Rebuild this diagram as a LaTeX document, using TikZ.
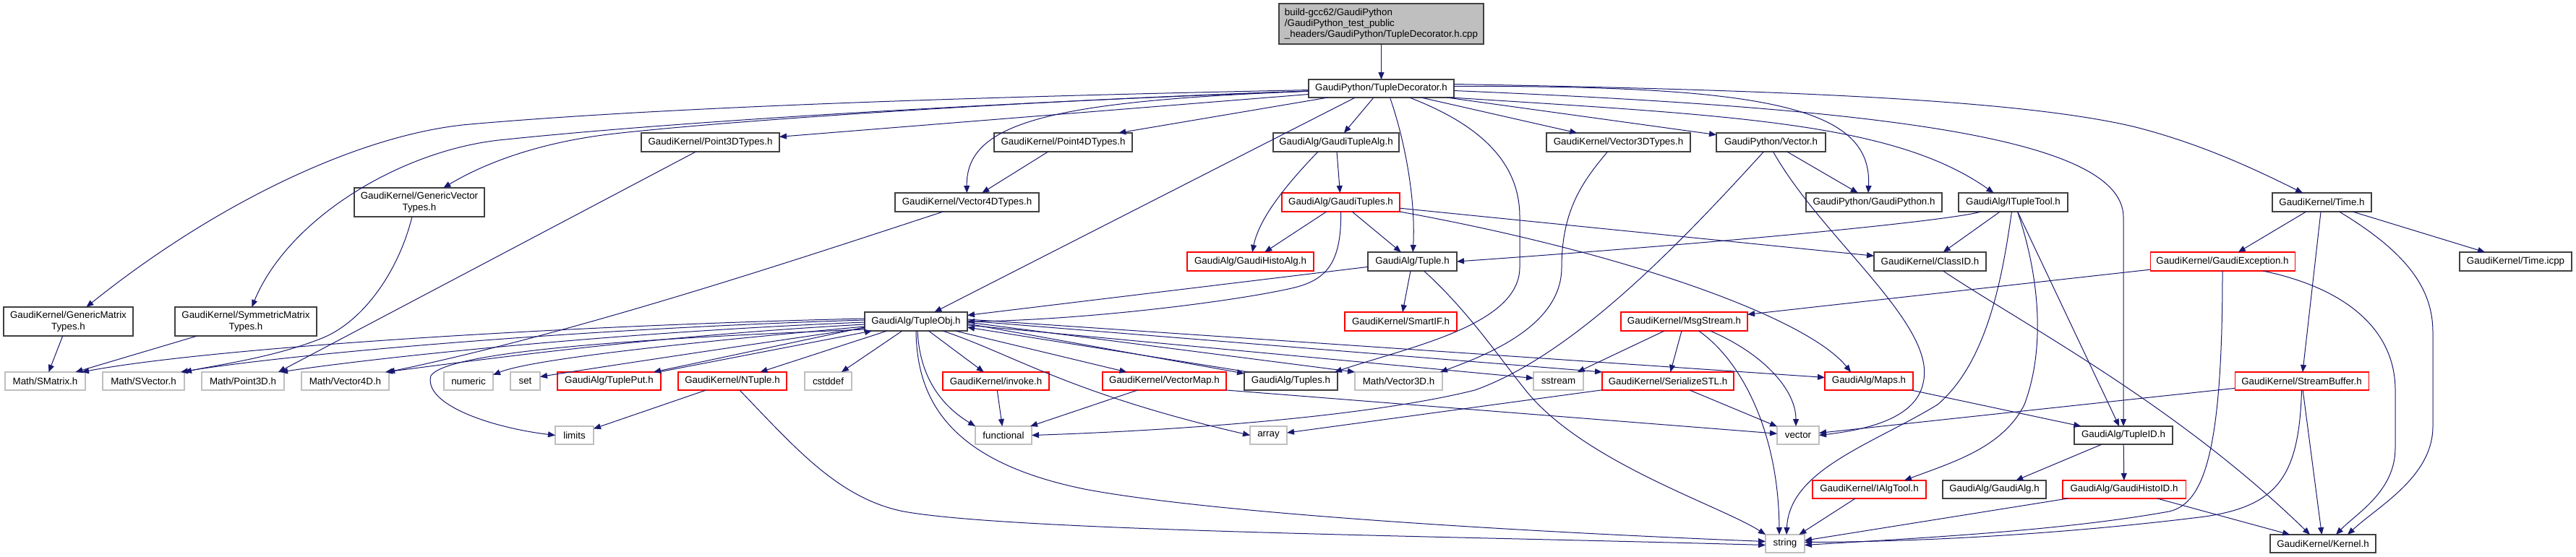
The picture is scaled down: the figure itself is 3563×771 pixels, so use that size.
\documentclass[tikz,border=0pt]{standalone}
\usepackage{fontspec}
\setmainfont{Liberation Sans}
\usetikzlibrary{arrows.meta,calc}
\definecolor{edgeblue}{HTML}{191970}
\definecolor{blkborder}{HTML}{404040}
\definecolor{extborder}{HTML}{BFBFBF}
\definecolor{rootfill}{HTML}{BFBFBF}
\definecolor{redborder}{HTML}{FF0000}
\newcommand\mkbox[7]{\node[#1, minimum width={(#5-#3)*0.75pt}, minimum height={(#6-#4)*0.75pt}] (#2) at ({(#3+#5)/2},{(#4+#6)/2}) {#7};}
\begin{document}
\begin{tikzpicture}[x=0.75pt,y=-0.75pt,
  font=\fontsize{10}{11.5}\selectfont,
  boxbase/.style={rectangle, inner sep=1pt, outer sep=0pt, fill=white, text=black},
  blk/.style={boxbase, draw=blkborder, line width=1.1pt},
  rednd/.style={boxbase, draw=redborder, line width=0.8pt},
  ext/.style={boxbase, draw=extborder, line width=0.8pt},
  rootnd/.style={blk, fill=rootfill, align=left},
  twoline/.style={align=center},
  ed/.style={draw=edgeblue, line width=0.75pt, -{Triangle[length=7.5pt,width=6pt]}}]
\fill[white] (0,0) rectangle (3563,771);
\useasboundingbox (0,0) rectangle (3563,771);
% ---------------- nodes ----------------
\mkbox{rootnd}{root}{1769}{5}{2052}{61}{build-gcc62/GaudiPython\\/GaudiPython\_test\_public\\\_headers/GaudiPython/TupleDecorator.h.cpp}
\mkbox{blk}{TD}{1810}{110}{2011}{135}{GaudiPython/TupleDecorator.h}
\mkbox{blk,twoline}{GMT}{5}{425}{184}{465}{GaudiKernel/GenericMatrix\\Types.h}
\mkbox{blk,twoline}{SMT}{242}{425}{438}{465}{GaudiKernel/SymmetricMatrix\\Types.h}
\mkbox{blk,twoline}{GVT}{490}{260}{670}{300}{GaudiKernel/GenericVector\\Types.h}
\mkbox{blk}{P3T}{887}{184}{1078}{210}{GaudiKernel/Point3DTypes.h}
\mkbox{blk}{P4T}{1375}{184}{1566}{210}{GaudiKernel/Point4DTypes.h}
\mkbox{blk}{V4T}{1238}{267}{1437}{293}{GaudiKernel/Vector4DTypes.h}
\mkbox{blk}{GTA}{1761}{184}{1935}{210}{GaudiAlg/GaudiTupleAlg.h}
\mkbox{rednd}{GTs}{1773}{267}{1936}{293}{GaudiAlg/GaudiTuples.h}
\mkbox{rednd}{GHA}{1642}{349}{1817}{375}{GaudiAlg/GaudiHistoAlg.h}
\mkbox{blk}{TupH}{1892}{349}{2015}{375}{GaudiAlg/Tuple.h}
\mkbox{blk}{V3T}{2139}{184}{2338}{210}{GaudiKernel/Vector3DTypes.h}
\mkbox{blk}{GPV}{2374}{184}{2525}{210}{GaudiPython/Vector.h}
\mkbox{blk}{GPy}{2498}{267}{2686}{293}{GaudiPython/GaudiPython.h}
\mkbox{blk}{ITT}{2709}{267}{2860}{293}{GaudiAlg/ITupleTool.h}
\mkbox{blk}{TimeH}{3143}{267}{3280}{293}{GaudiKernel/Time.h}
\mkbox{blk}{CID}{2592}{349}{2747}{375}{GaudiKernel/ClassID.h}
\mkbox{rednd}{GEx}{2974}{349}{3174}{375}{GaudiKernel/GaudiException.h}
\mkbox{blk}{Ticpp}{3402}{349}{3557}{375}{GaudiKernel/Time.icpp}
\mkbox{blk}{TObj}{1196}{432}{1338}{458}{GaudiAlg/TupleObj.h}
\mkbox{rednd}{SIF}{1860}{432}{2015}{458}{GaudiKernel/SmartIF.h}
\mkbox{rednd}{MsgS}{2242}{432}{2417}{458}{GaudiKernel/MsgStream.h}
\mkbox{ext}{SMat}{7}{515}{118}{540}{Math/SMatrix.h}
\mkbox{ext}{SVec}{142}{515}{255}{540}{Math/SVector.h}
\mkbox{ext}{P3D}{279}{515}{393}{540}{Math/Point3D.h}
\mkbox{ext}{V4D}{417}{515}{538}{540}{Math/Vector4D.h}
\mkbox{ext}{numeric}{614}{515}{682}{540}{numeric}
\mkbox{ext}{setn}{706}{515}{747}{540}{set}
\mkbox{rednd}{TPut}{771}{515}{914}{540}{GaudiAlg/TuplePut.h}
\mkbox{rednd}{NTup}{938}{515}{1088}{540}{GaudiKernel/NTuple.h}
\mkbox{ext}{cstd}{1113}{515}{1178}{540}{cstddef}
\mkbox{rednd}{invk}{1304}{515}{1451}{540}{GaudiKernel/invoke.h}
\mkbox{rednd}{VMap}{1525}{515}{1696}{540}{GaudiKernel/VectorMap.h}
\mkbox{blk}{Tups}{1721}{515}{1850}{540}{GaudiAlg/Tuples.h}
\mkbox{ext}{V3D}{1874}{515}{1995}{540}{Math/Vector3D.h}
\mkbox{ext}{sstr}{2121}{515}{2190}{540}{sstream}
\mkbox{rednd}{SSTL}{2216}{515}{2398}{540}{GaudiKernel/SerializeSTL.h}
\mkbox{rednd}{Maps}{2524}{515}{2646}{540}{GaudiAlg/Maps.h}
\mkbox{rednd}{SBuf}{3091}{515}{3276}{540}{GaudiKernel/StreamBuffer.h}
\mkbox{ext}{limits}{768}{590}{821}{615}{limits}
\mkbox{ext}{func}{1349}{590}{1427}{615}{functional}
\mkbox{ext}{arr}{1729}{590}{1780}{615}{array}
\mkbox{ext}{vec}{2458}{590}{2516}{615}{vector}
\mkbox{blk}{TID}{2869}{590}{3005}{615}{GaudiAlg/TupleID.h}
\mkbox{rednd}{IAT}{2507}{665}{2664}{690}{GaudiKernel/IAlgTool.h}
\mkbox{blk}{GAlg}{2687}{665}{2830}{690}{GaudiAlg/GaudiAlg.h}
\mkbox{rednd}{GHID}{2853}{665}{3023}{690}{GaudiAlg/GaudiHistoID.h}
\mkbox{ext}{str}{2442}{740}{2496}{765}{string}
\mkbox{blk}{Kern}{3140}{740}{3286}{765}{GaudiKernel/Kernel.h}
% ---------------- edges ----------------
\draw[ed] (root) -- (TD);
% from TupleDecorator.h
\draw[ed] (TD) .. controls (1300,135) and (900,150) .. (650,172) .. controls (500,185) and (300,280) .. (GMT);
\draw[ed] (TD) .. controls (1300,145) and (900,172) .. (700,193) .. controls (560,205) and (400,300) .. (SMT);
\draw[ed] (TD) .. controls (1400,140) and (1000,168) .. (850,185) .. controls (760,195) and (680,220) .. (GVT);
\draw[ed] (TD) -- (P3T);
\draw[ed] (TD) -- (P4T);
\draw[ed] (TD) .. controls (1450,140) and (1336,170) .. (V4T);
\draw[ed] ($(TD.south)+(-36,0)$) -- (TObj);
\draw[ed] (TD) -- (GTA);
\draw[ed] ($(TD.south)+(12,0)$) .. controls (1945,200) and (1958,280) .. (TupH);
\draw[ed] ($(TD.south)+(39,0)$) .. controls (2040,170) and (2102,220) .. (2102,300) -- (2102,370) .. controls (2102,450) and (1950,480) .. ($(Tups.north east)+(-4,0)$);
\draw[ed] (TD) -- (V3T);
\draw[ed] (TD) -- (GPV);
\draw[ed] ($(TD.east)+(0,-3)$) .. controls (2450,118) and (2590,150) .. ($(GPy.north)+(-8,0)$);
\draw[ed] ($(TD.south east)+(-4,0)$) .. controls (2400,160) and (2620,170) .. ($(ITT.north)+(-27,0)$);
\draw[ed] ($(TD.east)+(0,-6)$) .. controls (2500,125) and (2800,140) .. (2950,175) .. controls (3050,200) and (3130,240) .. (TimeH);
\draw[ed] ($(TD.east)+(0,3)$) .. controls (2600,150) and (2935,190) .. (2937,300) -- (TID);
% GaudiTupleAlg / GaudiTuples / Tuple
\draw[ed] ($(GTA.south)+(-25,0)$) .. controls (1765,270) and (1740,310) .. (GHA);
\draw[ed] (GTA) -- (GTs);
\draw[ed] (GTs) -- (GHA);
\draw[ed] (GTs) -- (TupH);
\draw[ed] (GTs.south) .. controls (1856,370) and (1830,390) .. (1782,400) .. controls (1700,418) and (1500,443) .. (TObj.east);
\draw[ed] (GTs) -- (CID);
\draw[ed] (GTs.south east) .. controls (2250,350) and (2500,440) .. ($(Maps.north)+(-25,0)$);
\draw[ed] (TupH) -- (TObj);
\draw[ed] (TupH) -- (SIF);
\draw[ed] ($(TupH.south)+(16,0)$) .. controls (2030,430) and (2070,490) .. (2110,540) .. controls (2190,640) and (2380,700) .. (str.north west);
% Vector3DTypes, GaudiPython/Vector.h
\draw[ed] ($(V3T.south)+(-15,0)$) .. controls (2190,250) and (2160,290) .. (2160,370) .. controls (2160,450) and (2060,490) .. ($(V3D.north east)+(-3,0)$);
\draw[ed] (GPV) -- (GPy);
\draw[ed] ($(GPV.south)+(-10,0)$) .. controls (2330,330) and (2180,490) .. (2040,540) .. controls (1900,575) and (1650,595) .. (func.east);
\draw[ed] ($(GPV.south)+(3,0)$) .. controls (2520,330) and (2680,450) .. (2660,530) .. controls (2650,580) and (2580,595) .. (vec.east);
% ITupleTool
\draw[ed] ($(ITT.south west)+(31,0)$) .. controls (2700,305) and (2400,335) .. (TupH.east);
\draw[ed] (ITT) -- (CID);
\draw[ed] ($(ITT.south)+(-2,0)$) .. controls (2770,380) and (2750,500) .. (2680,560) .. controls (2590,615) and (2475,650) .. ($(str.north)+(2,0)$);
\draw[ed] (ITT) -- (TID);
\draw[ed] ($(ITT.south)+(6,0)$) .. controls (2820,380) and (2830,480) .. (2800,560) .. controls (2770,620) and (2700,640) .. ($(IAT.north east)+(-30,0)$);
% Time.h
\draw[ed] (TimeH) -- (GEx);
\draw[ed] (TimeH) -- (SBuf);
\draw[ed] ($(TimeH.south)+(24,0)$) .. controls (3330,350) and (3365,400) .. (3365,460) -- (3365,590) .. controls (3365,660) and (3290,700) .. ($(Kern.north)+(34,0)$);
\draw[ed] (TimeH) -- (Ticpp);
\draw[ed] ($(CID.south)+(18,0)$) .. controls (2800,450) and (3010,560) .. ($(Kern.north)+(-18,0)$);
% GaudiException
\draw[ed] (GEx) -- (MsgS);
\draw[ed] (GEx.south) .. controls (3074,620) and (3050,697) .. (3000,708) .. controls (2850,735) and (2650,745) .. ($(str.east)+(0,2)$);
\draw[ed] ($(GEx.south)+(56,0)$) .. controls (3250,400) and (3313,460) .. (3313,540) -- (3313,620) .. controls (3313,680) and (3260,710) .. ($(Kern.north)+(18,0)$);
% StreamBuffer
\draw[ed] (SBuf) -- (vec);
\draw[ed] (SBuf.south) .. controls (3180,660) and (3150,700) .. (3050,715) .. controls (2850,740) and (2650,750) .. ($(str.east)+(0,-2)$);
\draw[ed] (SBuf) -- (Kern);
% TupleID, GaudiHistoID, IAlgTool
\draw[ed] (TID) -- (GAlg);
\draw[ed] (TID) -- (GHID);
\draw[ed] (GHID) -- (str);
\draw[ed] (GHID) -- (Kern);
\draw[ed] (IAT) -- (str);
% MsgStream, SerializeSTL, Maps, VectorMap, invoke, NTuple
\draw[ed] (MsgS) -- (sstr);
\draw[ed] (MsgS) -- (SSTL);
\draw[ed] ($(MsgS.south)+(20,0)$) .. controls (2410,500) and (2460,600) .. ($(str.north)+(-8,0)$);
\draw[ed] ($(MsgS.south)+(36,0)$) .. controls (2440,490) and (2484,540) .. ($(vec.north)+(-3,0)$);
\draw[ed] (SSTL) -- (arr);
\draw[ed] (SSTL) -- (vec);
\draw[ed] (Maps) -- (TID);
\draw[ed] (VMap) -- (func);
\draw[ed] (VMap.south east) -- (vec);
\draw[ed] (invk) -- (func);
\draw[ed] (NTup) -- (limits);
\draw[ed] ($(NTup.south)+(10,0)$) .. controls (1100,620) and (1160,690) .. (1250,708) .. controls (1400,735) and (2000,742) .. ($(str.west)+(0,2)$);
% TupleObj <-> TuplePut
\draw[ed] ($(TObj.south west)+(0,-5)$) -- ($(TPut.north east)+(-10,0)$);
\draw[ed] ($(TPut.north east)+(-3,0)$) -- ($(TObj.south west)+(10,0)$);
% TupleObj to the left
\draw[ed] ($(TObj.west)+(0,-4)$) .. controls (800,450) and (300,480) .. ($(SMat.north east)+(-5,0)$);
\draw[ed] ($(TObj.west)+(0,-2)$) .. controls (800,455) and (400,490) .. ($(SVec.north east)+(-5,0)$);
\draw[ed] ($(TObj.west)+(0,1)$) .. controls (850,460) and (520,495) .. ($(P3D.north east)+(-5,0)$);
\draw[ed] ($(TObj.west)+(0,4)$) .. controls (900,465) and (650,500) .. ($(V4D.north east)+(-5,0)$);
\draw[ed] ($(TObj.west)+(0,7)$) .. controls (1000,470) and (740,495) .. ($(numeric.north east)+(0,4)$);
\draw[ed] ($(TObj.west)+(0,9)$) .. controls (1050,475) and (850,505) .. ($(setn.east)+(0,-6)$);
\draw[ed] ($(TObj.west)+(0,11)$) .. controls (900,468) and (620,485) .. (596,520) .. controls (585,560) and (680,592) .. (limits.west);
% TupleObj downwards
\draw[ed] (TObj) -- (NTup);
\draw[ed] (TObj) -- (cstd);
\draw[ed] (TObj) -- (invk);
\draw[ed] ($(TObj.south)+(2,0)$) .. controls (1272,520) and (1300,560) .. (func.north west);
\draw[ed] (TObj) -- (VMap);
\draw[ed] ($(TObj.south)+(37,0)$) .. controls (1400,490) and (1480,545) .. (arr.west);
\draw[ed] (TObj.south) .. controls (1268,560) and (1320,640) .. (1500,677) .. controls (1700,715) and (2200,740) .. ($(str.west)+(0,-3)$);
% TupleObj to the right
\draw[ed] ($(TObj.east)+(0,3)$) -- ($(Tups.north west)+(0,2)$);
\draw[ed] ($(Tups.north west)+(6,0)$) -- ($(TObj.east)+(0,8)$);
\draw[ed] ($(TObj.east)+(0,1)$) -- (V3D.north west);
\draw[ed] ($(TObj.east)+(0,5)$) -- ($(sstr.west)+(0,-4)$);
\draw[ed] ($(TObj.east)+(0,-1)$) -- (SSTL.north west);
\draw[ed] ($(TObj.east)+(0,-3)$) -- ($(Maps.west)+(0,-5)$);
% Types headers to Math
\draw[ed] (P4T) -- (V4T);
\draw[ed] ($(P3T.south)+(-20,0)$) -- ($(P3D.north east)+(-8,0)$);
\draw[ed] ($(V4T.south)+(-33,0)$) .. controls (1100,360) and (800,460) .. ($(V4D.north east)+(-2,0)$);
\draw[ed] ($(GVT.south)+(-10,0)$) .. controls (550,380) and (500,445) .. (448,467) .. controls (380,495) and (300,505) .. (SVec.north east);
\draw[ed] (GMT) -- (SMat);
\draw[ed] (SMT) -- (SMat);
\end{tikzpicture}
\end{document}
